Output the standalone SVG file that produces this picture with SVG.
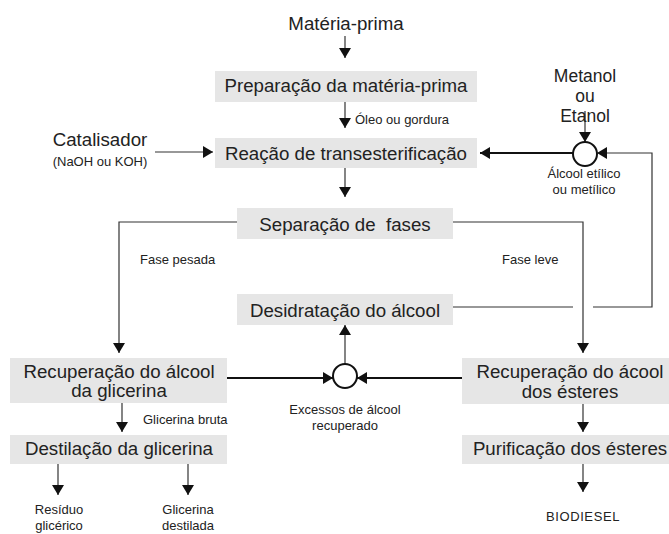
<svg xmlns="http://www.w3.org/2000/svg" width="669" height="534" viewBox="0 0 669 534">
<style>
text{font-family:"Liberation Sans",Arial,sans-serif;fill:#222;}
.big{font-size:18.7px;}
.mid{font-size:17.5px;}
.sm{font-size:13px;}
.box{fill:#e6e6e6;stroke:none;}
.thin{fill:none;stroke:#333;stroke-width:1.2;}
.thick{fill:none;stroke:#111;stroke-width:2.2;}
.circ{fill:#fff;stroke:#111;stroke-width:2;}
</style>
<defs>
<marker id="ah" viewBox="0 0 10 12" refX="10" refY="6" markerWidth="10" markerHeight="12" orient="auto" markerUnits="userSpaceOnUse">
<path d="M0,0 L10,6 L0,12 z" fill="#111"/>
</marker>
</defs>
<rect width="669" height="534" fill="#fff"/>

<g id="connectors">
<path class="thin" d="M345,36 V58" marker-end="url(#ah)"/>
<path class="thin" d="M345,102 V128" marker-end="url(#ah)"/>
<path class="thin" d="M155,152 H213" marker-end="url(#ah)"/>
<path class="thin" d="M345,168 V197" marker-end="url(#ah)"/>
<path class="thick" d="M573,153 H480" marker-end="url(#ah)"/>
<path class="thin" d="M585,111 V142" marker-end="url(#ah)"/>
<path class="thin" d="M453,307 H573 M593,307 H652 V153 H597" marker-end="url(#ah)"/>
<path class="thin" d="M237,222 H119 V353" marker-end="url(#ah)"/>
<path class="thin" d="M453,222 H583 V353" marker-end="url(#ah)"/>
<path class="thick" d="M227,378 H333" marker-end="url(#ah)"/>
<path class="thick" d="M462,378 H357" marker-end="url(#ah)"/>
<path class="thin" d="M345,364 V325" marker-end="url(#ah)"/>
<path class="thin" d="M122,403 V432" marker-end="url(#ah)"/>
<path class="thin" d="M58,464 V495" marker-end="url(#ah)"/>
<path class="thin" d="M188,464 V495" marker-end="url(#ah)"/>
<path class="thin" d="M583,404 V432" marker-end="url(#ah)"/>
<path class="thin" d="M583,464 V492" marker-end="url(#ah)"/>
</g>

<g id="materia-prima"><text class="big" x="346" y="30" text-anchor="middle">Matéria-prima</text></g>

<g id="preparacao">
<rect class="box" x="215" y="71" width="262" height="31"/>
<text class="big" x="346" y="92" text-anchor="middle">Preparação da matéria-prima</text>
</g>
<g id="label-oleo"><text class="sm" x="355" y="124">Óleo ou gordura</text></g>

<g id="catalisador">
<text class="big" x="100" y="146" text-anchor="middle">Catalisador</text>
<text class="sm" x="100" y="166" text-anchor="middle">(NaOH ou KOH)</text>
</g>

<g id="reacao">
<rect class="box" x="215" y="138" width="262" height="30"/>
<text class="big" x="346" y="160" text-anchor="middle">Reação de transesterificação</text>
</g>

<g id="metanol">
<text class="mid" x="585" y="82" text-anchor="middle">Metanol</text>
<text class="mid" x="585" y="102" text-anchor="middle">ou</text>
<text class="mid" x="585" y="122" text-anchor="middle">Etanol</text>
</g>

<g id="mix-top">
<circle class="circ" cx="585" cy="154" r="12"/>
<text class="sm" x="584" y="178" text-anchor="middle">Álcool etílico</text>
<text class="sm" x="584" y="194" text-anchor="middle">ou metílico</text>
</g>

<g id="separacao">
<rect class="box" x="237" y="208" width="216" height="31"/>
<text class="big" x="345" y="231" text-anchor="middle" xml:space="preserve">Separação de  fases</text>
</g>
<g id="label-pesada"><text class="sm" x="140" y="264">Fase pesada</text></g>
<g id="label-leve"><text class="sm" x="502" y="264">Fase leve</text></g>

<g id="desidratacao">
<rect class="box" x="237" y="294" width="216" height="31"/>
<text class="big" x="345" y="317" text-anchor="middle">Desidratação do álcool</text>
</g>

<g id="rec-glicerina">
<rect class="box" x="10" y="358" width="217" height="45"/>
<text class="big" x="119" y="378" text-anchor="middle">Recuperação do álcool</text>
<text class="big" x="119" y="397" text-anchor="middle">da glicerina</text>
</g>

<g id="mix-bottom">
<circle class="circ" cx="345" cy="376" r="12"/>
<text class="sm" x="345" y="414" text-anchor="middle">Excessos de álcool</text>
<text class="sm" x="345" y="430" text-anchor="middle">recuperado</text>
</g>

<g id="rec-esteres">
<rect class="box" x="462" y="358" width="207" height="46"/>
<text class="big" x="570" y="378" text-anchor="middle">Recuperação do ácool</text>
<text class="big" x="570" y="398" text-anchor="middle">dos ésteres</text>
</g>

<g id="label-bruta"><text class="sm" x="143" y="424">Glicerina bruta</text></g>

<g id="destilacao">
<rect class="box" x="10" y="435" width="217" height="29"/>
<text class="big" x="119" y="455" text-anchor="middle">Destilação da glicerina</text>
</g>

<g id="purificacao">
<rect class="box" x="462" y="435" width="207" height="29"/>
<text class="big" x="570" y="455" text-anchor="middle">Purificação dos ésteres</text>
</g>

<g id="residuo">
<text class="sm" x="59" y="514" text-anchor="middle">Resíduo</text>
<text class="sm" x="59" y="530" text-anchor="middle">glicérico</text>
</g>
<g id="glicerina-destilada">
<text class="sm" x="188" y="514" text-anchor="middle">Glicerina</text>
<text class="sm" x="188" y="530" text-anchor="middle">destilada</text>
</g>
<g id="biodiesel"><text class="sm" x="583" y="521" text-anchor="middle" letter-spacing="0.6">BIODIESEL</text></g>
</svg>
